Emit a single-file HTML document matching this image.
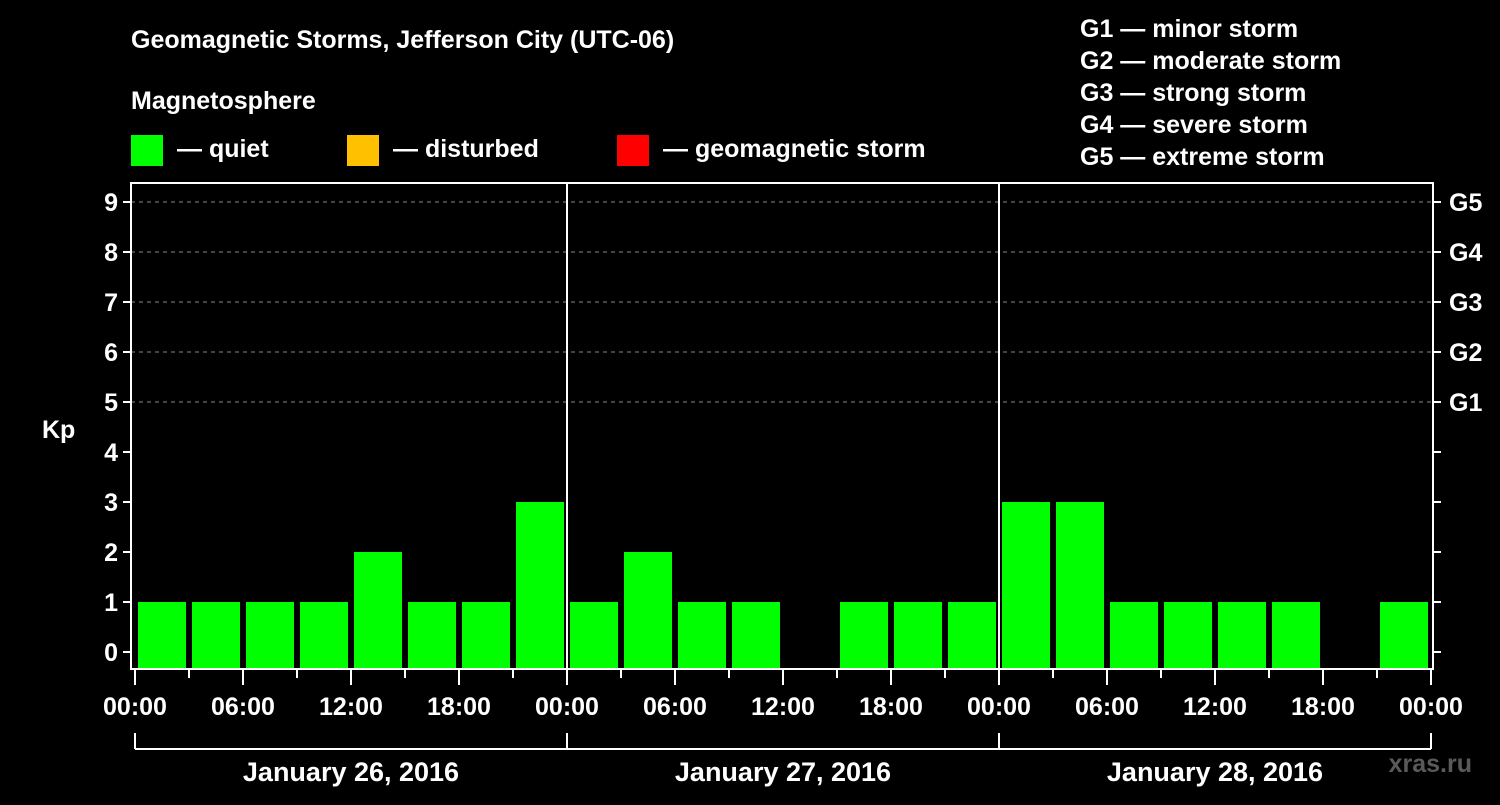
<!DOCTYPE html>
<html><head><meta charset="utf-8"><style>
body{margin:0;background:#000;}
svg text{font-family:"Liberation Sans",sans-serif;font-weight:bold;fill:#fff;}
</style></head><body>
<svg id="c" width="1500" height="800" viewBox="0 0 1500 800">
<rect width="1500" height="800" fill="#000"/>
<text x="131" y="48" font-size="25">Geomagnetic Storms, Jefferson City (UTC-06)</text>
<text x="131" y="109" font-size="25">Magnetosphere</text>
<g><rect x="131" y="135" width="32" height="31" fill="#00ff00"/><text x="177" y="157" font-size="25">— quiet</text></g>
<g><rect x="347" y="135" width="32" height="31" fill="#ffc000"/><text x="393" y="157" font-size="25">— disturbed</text></g>
<g><rect x="617" y="135" width="32" height="31" fill="#ff0000"/><text x="663" y="157" font-size="25">— geomagnetic storm</text></g>
<g font-size="25">
<text x="1080" y="37">G1 — minor storm</text>
<text x="1080" y="69">G2 — moderate storm</text>
<text x="1080" y="101">G3 — strong storm</text>
<text x="1080" y="133">G4 — severe storm</text>
<text x="1080" y="165">G5 — extreme storm</text>
</g>
<text x="42" y="438" font-size="25">Kp</text>
<text x="1472" y="772" font-size="25" fill="#555" style="fill:#5a5a5a" text-anchor="end">xras.ru</text>
<g id="plot"></g>
</svg>
<script>
const values=[1,1,1,1,2,1,1,3, 1,2,1,1,null,1,1,1, 3,3,1,1,1,1,null,1];
const yTicks=[0,1,2,3,4,5,6,7,8,9];
const gLabels={5:"G1",6:"G2",7:"G3",8:"G4",9:"G5"};
const xLabels=["00:00","06:00","12:00","18:00","00:00","06:00","12:00","18:00","00:00","06:00","12:00","18:00","00:00"];
const days=["January 26, 2016","January 27, 2016","January 28, 2016"];
const L=131,R=1433,T=183,B=669,X0=135,DAY=432;
const y=v=>652-50*v;
const x=h=>X0+h*DAY/24;
const NS="http://www.w3.org/2000/svg";
const g=document.getElementById('plot');
function mk(t,a,txt){const e=document.createElementNS(NS,t);for(const k in a)e.setAttribute(k,a[k]);if(txt!=null)e.textContent=txt;g.appendChild(e);return e;}
yTicks.forEach(v=>{
 if(v>=5){const gl=mk('line',{x1:L,x2:R,y1:y(v),y2:y(v),stroke:'#888','stroke-dasharray':'4,4','stroke-width':1});
 
 }
 const t=mk('line',{x1:L-8,x2:L,y1:y(v),y2:y(v),stroke:'#fff','stroke-width':2});
 
 
 const t2=mk('line',{x1:R,x2:R+8,y1:y(v),y2:y(v),stroke:'#fff','stroke-width':2});
 
 
 const lb=mk('text',{x:L-13,y:y(v)+9,'font-size':25,'text-anchor':'end'},String(v));
 
 
 if(gLabels[v]){const gt=mk('text',{x:R+16,y:y(v)+9,'font-size':25},gLabels[v]);
 
 }
});
values.forEach((v,i)=>{
 if(v==null)return;
 const c=v>=5?'#ff0000':(v>=4?'#ffc000':'#00ff00');
 const r=mk('rect',{x:x(i*3)+3,y:y(v),width:48,height:B-y(v),fill:c});
 
 
});
[1,2].forEach(d=>{const l=mk('line',{x1:x(d*24),x2:x(d*24),y1:T,y2:B,stroke:'#fff','stroke-width':2});
 
 });
const frame=mk('rect',{x:L,y:T,width:R-L,height:B-T,fill:'none',stroke:'#fff','stroke-width':2});


for(let h=0;h<=72;h+=3){
 const major=h%6===0;
 const t=mk('line',{x1:x(h),x2:x(h),y1:B,y2:B+(major?16:9),stroke:'#fff','stroke-width':2});
 
 
}
xLabels.forEach((s,i)=>{
 const t=mk('text',{x:x(i*6),y:715,'font-size':25,'text-anchor':'middle'},s);
 
 
});
const br=mk('line',{x1:x(0),x2:x(72),y1:749,y2:749,stroke:'#fff','stroke-width':2});


for(let d=0;d<=3;d++){const v=mk('line',{x1:x(d*24),x2:x(d*24),y1:733,y2:749,stroke:'#fff','stroke-width':2});
 
 }
days.forEach((s,i)=>{
 const t=mk('text',{x:x(i*24+12),y:781,'font-size':27,'text-anchor':'middle'},s);
 
 
});
</script>
</body></html>
